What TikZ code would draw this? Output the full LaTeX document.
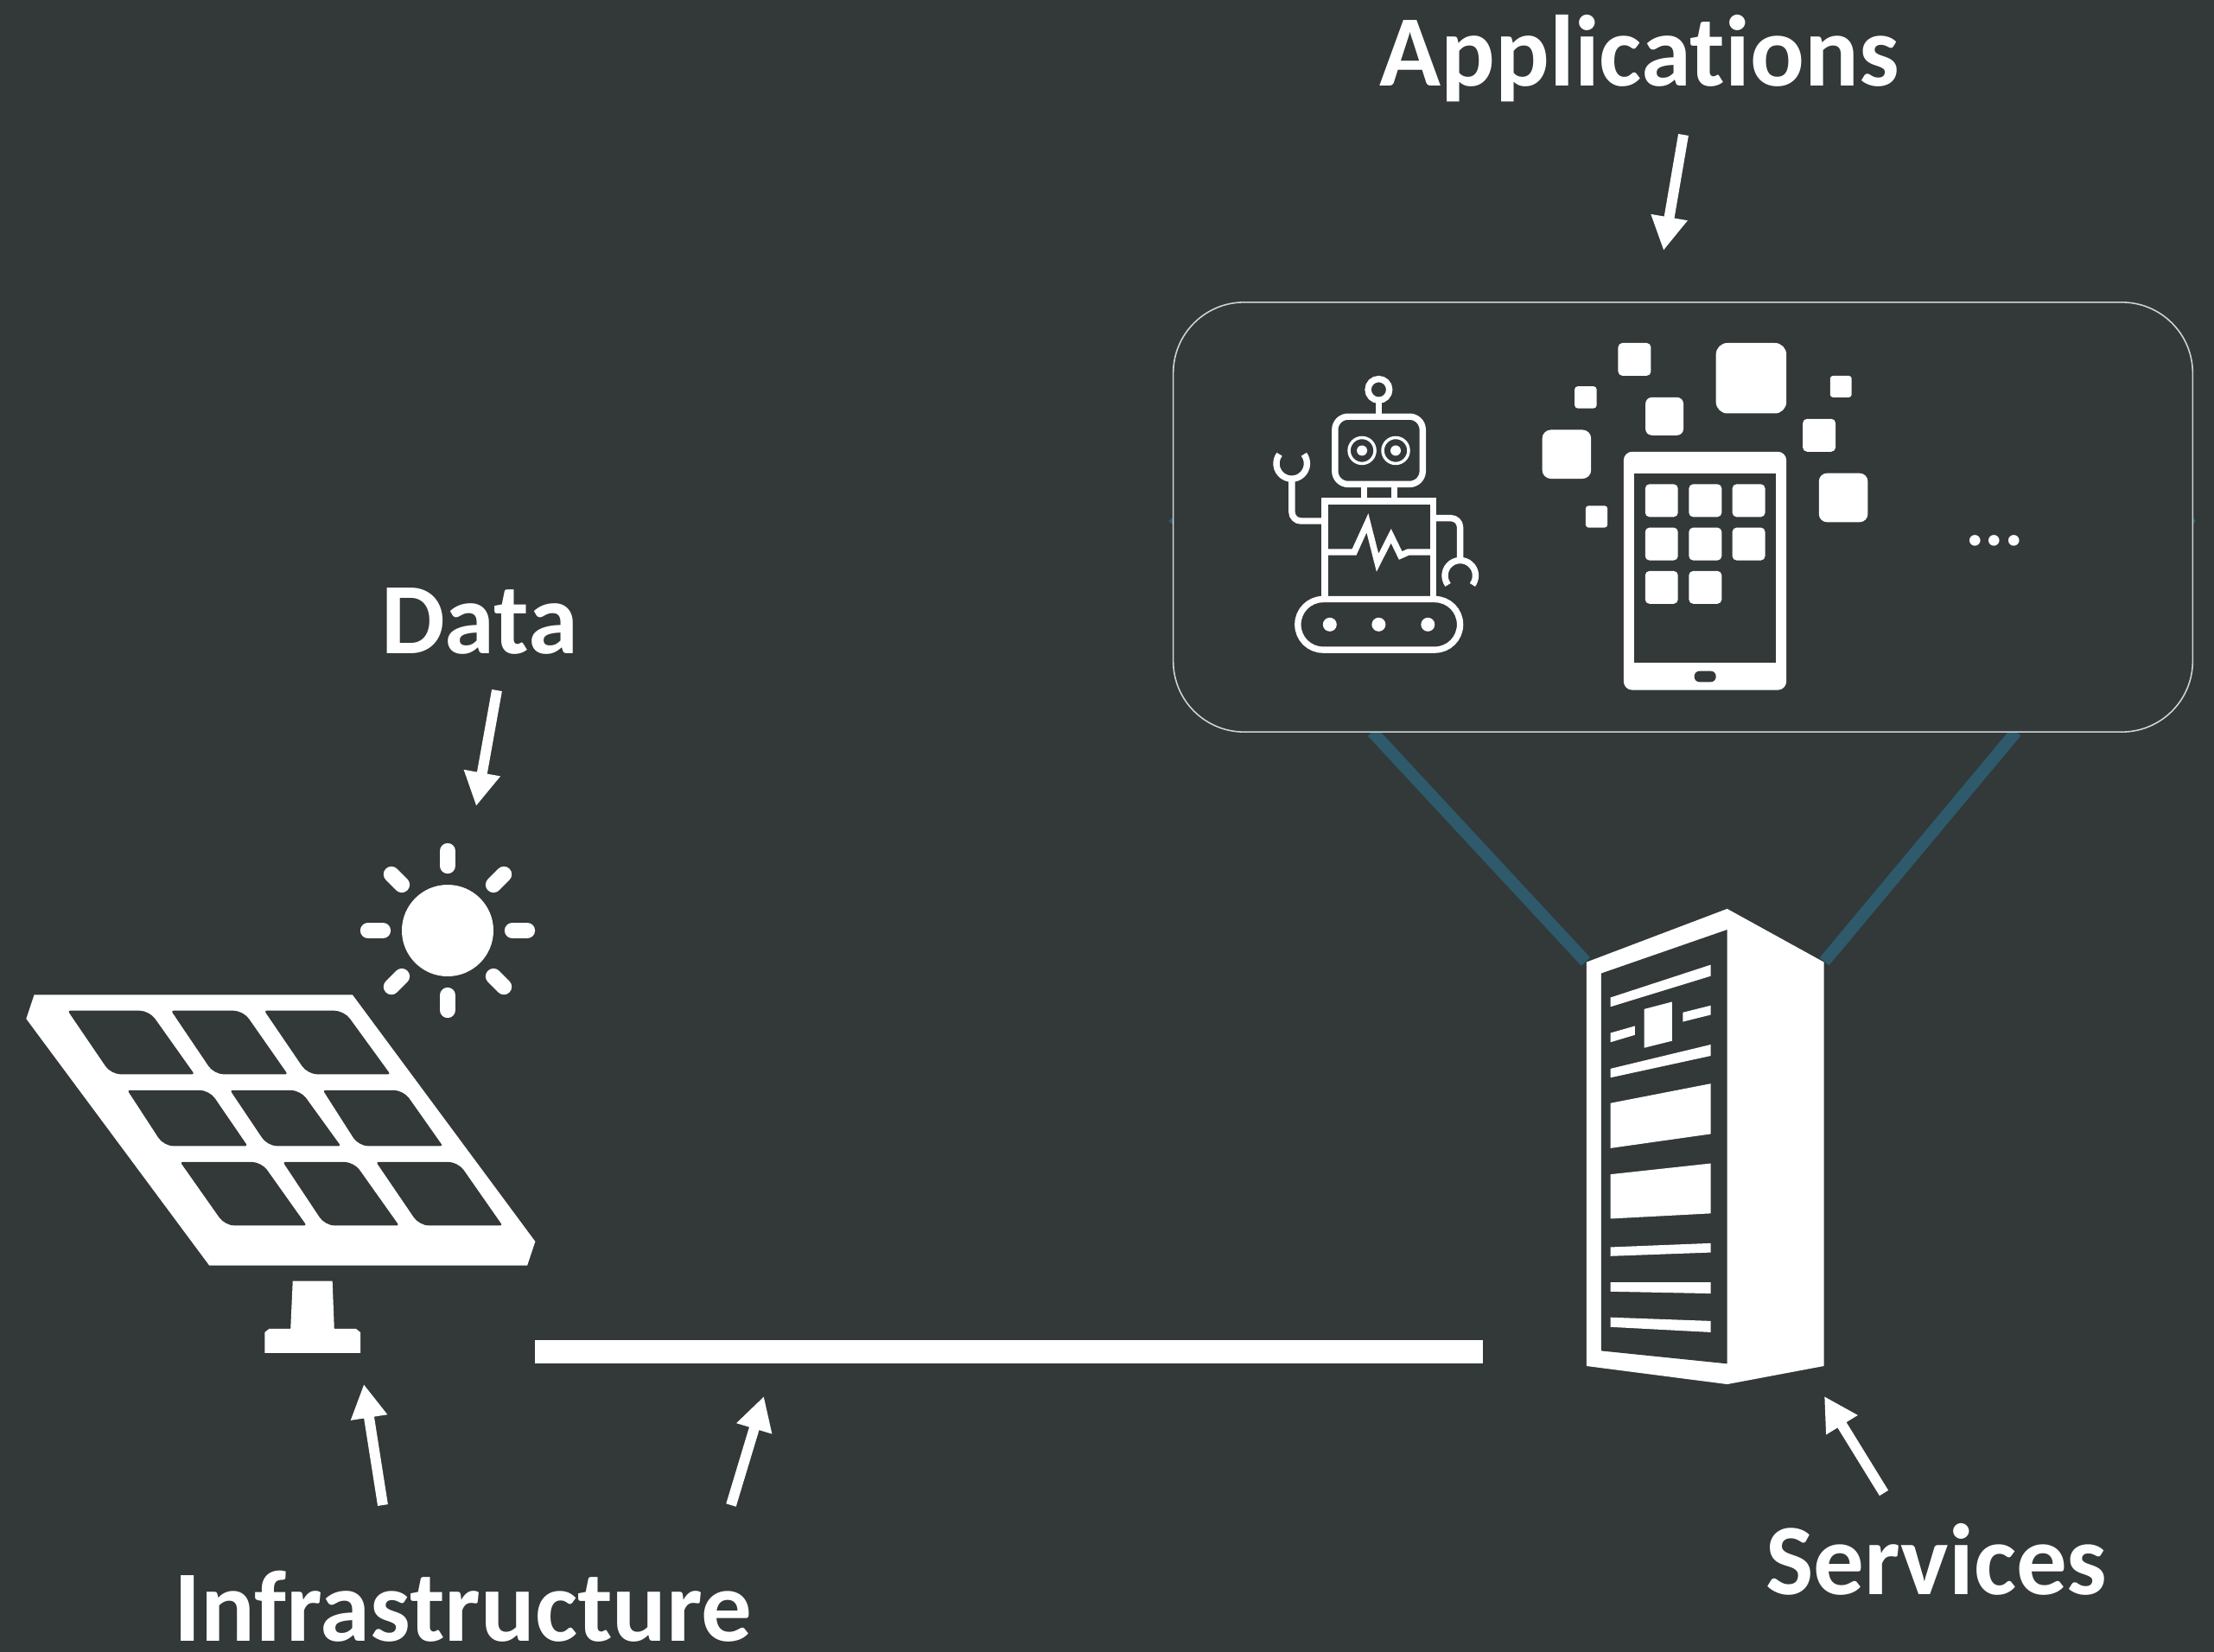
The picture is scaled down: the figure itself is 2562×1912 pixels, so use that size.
\documentclass[tikz,border=0pt]{standalone}
\usepackage{fontspec}
\setmainfont[Ligatures=NoCommon]{Carlito}
\usetikzlibrary{arrows.meta,calc}
\definecolor{bgdark}{HTML}{323938}
\definecolor{linkteal}{HTML}{2E5A6B}
\definecolor{boxline}{HTML}{D0D4D4}
% one cell of the solar panel: top left, top right, bottom right, bottom left, top y, bottom y
\newcommand{\panelcell}[6]{\fill[bgdark, rounded corners=0.8pt] (#1,#5) [rounded corners=3.2pt] -- (#2,#5) [rounded corners=0.8pt] -- (#3,#6) [rounded corners=3.2pt] -- (#4,#6) [rounded corners=0.8pt] -- cycle;}
% one rounded square of the tablet
\newcommand{\appsquare}[5]{\fill[white, rounded corners=#5pt] (#1,#2) rectangle (#3,#4);}
\begin{document}
\begin{tikzpicture}[x=0.01cm, y=-0.01cm,
% common options for the labels:
label text/.style = {text=white, font=\fontsize{33.3pt}{36pt}\selectfont\bfseries, anchor=base, inner sep=0},
% common options for the arrows:
flow/.style = {draw=white, line width=3.4pt, -{Triangle[length=11.1pt,width=11.4pt]}},
link/.style = {draw=linkteal, line width=4pt},
sunray/.style = {draw=white, line width=5.2pt, line cap=round},
robotline/.style = {draw=white, line width=2.1pt},
appbox/.style = {draw=boxline, line width=0.45pt, fill=bgdark, rounded corners=0.82cm,
            minimum width=11.79cm, minimum height=4.97cm, inner sep=0}]
\fill[bgdark] (0,0) rectangle (2562,1912);
\useasboundingbox (0,0) rectangle (2562,1912);
% links from the server up to the box
\coordinate (linkA0) at (1588,847);
\coordinate (linkA1) at (1835,1113);
\coordinate (linkB0) at (2333,847);
\coordinate (linkB1) at (2111,1113);
\draw[link] (linkA0) to (linkA1);
\draw[link] (linkB0) to (linkB1);
\fill[linkteal] (1352,603) -- (1358,598) -- (1358,608) -- cycle;
\fill[linkteal] (2541,603) -- (2537,598) -- (2537,608) -- cycle;
\node[appbox] (apps) at (1947.5,598.5) {};
% labels
\node[label text] (applications) at (1897,99) {Applications};
\node[label text] (data) at (555,756) {Data};
\node[label text] (infra) at (536,1899) {Infrastructure};
\node[label text] (services) at (2241,1845) {Services};
\node[text=white, font=\fontsize{24pt}{26pt}\selectfont\bfseries, anchor=base, inner sep=0] (more) at (2308,631) {...};
% arrows
\coordinate (appsTail) at (1948,156);
\coordinate (appsTip) at (1925,290);
\coordinate (dataTail) at (575,799);
\coordinate (dataTip) at (551,933);
\coordinate (infraTailA) at (443,1742);
\coordinate (infraTipA) at (421,1602);
\coordinate (infraTailB) at (846,1742);
\coordinate (infraTipB) at (884,1616);
\coordinate (servicesTail) at (2180,1728);
\coordinate (servicesTip) at (2111,1616);
\draw[flow] (appsTail) to (appsTip);
\draw[flow] (dataTail) to (dataTip);
\draw[flow] (infraTailA) to (infraTipA);
\draw[flow] (infraTailB) to (infraTipB);
\draw[flow] (servicesTail) to (servicesTip);
% cable
\fill[white] (619,1551) rectangle (1716,1578);
% sun
\coordinate (sun) at (518,1077);
\fill[white] (sun) circle (53);
\foreach \ang in {0,45,...,315}
    \draw[sunray] ($(sun)+(\ang:75)$) to ($(sun)+(\ang:92)$);
% solar panel
\begin{scope}[shift={(0,950)}, x=0.004209cm, y=-0.004082cm]
\fill[white] (94,492) -- (968,492) -- (1470,1190) -- (1448,1258) -- (575,1258) -- (72,560) -- cycle;
\panelcell{186}{410}{534}{305}{537}{717}
\panelcell{470}{668}{790}{588}{537}{717}
\panelcell{726}{945}{1072}{845}{537}{717}
\panelcell{350}{575}{680}{450}{762}{920}
\panelcell{632}{825}{936}{735}{762}{920}
\panelcell{887}{1108}{1216}{985}{762}{920}
\panelcell{495}{718}{842}{618}{965}{1145}
\panelcell{777}{972}{1096}{893}{965}{1145}
\panelcell{1033}{1258}{1380}{1152}{965}{1145}
\fill[white] (804,1302) -- (913,1302) -- (918,1437) -- (978,1437) -- (990,1447) -- (990,1505) -- (727,1505) -- (727,1447) -- (739,1437) -- (798,1437) -- cycle;
\end{scope}
% server
\begin{scope}[shift={(1800,1030)}, x=0.003333cm, y=-0.003827cm]
\fill[white] (108,218) -- (597,57) -- (933,218) -- (933,1438) -- (597,1493) -- (108,1438) -- cycle;
\fill[bgdark] (159,252) -- (597,120) -- (597,1431) -- (159,1392) -- cycle;
\fill[white] (191,325) -- (540,226) -- (540,260) -- (191,353) -- cycle;
\fill[white] (191,432) -- (276,411) -- (276,438) -- (191,460) -- cycle;
\fill[white] (308,360) -- (405,338) -- (405,456) -- (308,477) -- cycle;
\fill[white] (443,370) -- (540,349) -- (540,377) -- (443,398) -- cycle;
\fill[white] (191,540) -- (540,467) -- (540,501) -- (191,567) -- cycle;
\fill[white] (191,644) -- (540,585) -- (540,737) -- (191,780) -- cycle;
\fill[white] (191,859) -- (540,826) -- (540,977) -- (191,993) -- cycle;
\fill[white] (191,1079) -- (540,1067) -- (540,1095) -- (191,1106) -- cycle;
\fill[white] (191,1185) -- (540,1185) -- (540,1219) -- (191,1213) -- cycle;
\fill[white] (191,1291) -- (540,1302) -- (540,1336) -- (191,1320) -- cycle;
\end{scope}
% robot
\begin{scope}[shift={(1420,400)}, x=0.003333cm, y=-0.003333cm]
\draw[robotline] (527,153) circle (37);
\draw[robotline] (527,190) -- (527,247);
\draw[robotline, rounded corners=4.3pt] (375,247) rectangle (680,482);
\draw[draw=white, line width=1pt] (469,365) circle (45);
\draw[draw=white, line width=1pt] (586,365) circle (45);
\fill[white] (469,365) circle (18);
\fill[white] (586,365) circle (18);
\draw[robotline] (477,490) -- (477,535);
\draw[robotline] (582,490) -- (582,535);
\draw[robotline] (340,541) rectangle (716,882);
\draw[robotline, rounded corners=3pt] (340,610) -- (225,610) -- (225,460);
\draw[robotline] (182,378) arc[start angle=143, delta angle=254, radius=0.177cm];
\draw[robotline, rounded corners=3pt] (716,600) -- (810,600) -- (810,745);
\draw[robotline] (768,832) arc[start angle=217, delta angle=-254, radius=0.177cm];
\draw[robotline, line join=miter, miter limit=10] (340,718) -- (442,718) -- (488,617) -- (523,755) -- (570,662) -- (603,730) -- (630,718) -- (716,718);
\draw[robotline, rounded corners=8.3pt] (246,882) rectangle (810,1058);
\fill[white] (357,970) circle (24);
\fill[white] (527,970) circle (24);
\fill[white] (698,970) circle (24);
\end{scope}
% tablet
\begin{scope}[shift={(1760,370)}, x=0.003333cm, y=-0.003333cm]
\appsquare{338}{81}{452}{195}{1.4}
\appsquare{187}{232}{263}{308}{0.95}
\appsquare{433}{270}{565}{402}{2.1}
\appsquare{678}{81}{923}{326}{3.8}
\appsquare{74}{383}{244}{553}{2.85}
\appsquare{225}{647}{301}{723}{0.95}
\appsquare{1075}{195}{1150}{270}{0.95}
\appsquare{980}{345}{1094}{459}{1.4}
\appsquare{1036}{534}{1206}{704}{2.65}
\appsquare{357}{459}{923}{1288}{2.85}
\fill[bgdark] (395,534) rectangle (886,1193);
\fill[bgdark, rounded corners=1.7pt] (603,1222) rectangle (678,1260);
\foreach \col/\row in {432/572,584/572,735/572,432/723,584/723,735/723,432/874,584/874}
    {\appsquare{\col}{\row}{\col+114}{\row+114}{1.4}}
\end{scope}
\end{tikzpicture}
\end{document}
